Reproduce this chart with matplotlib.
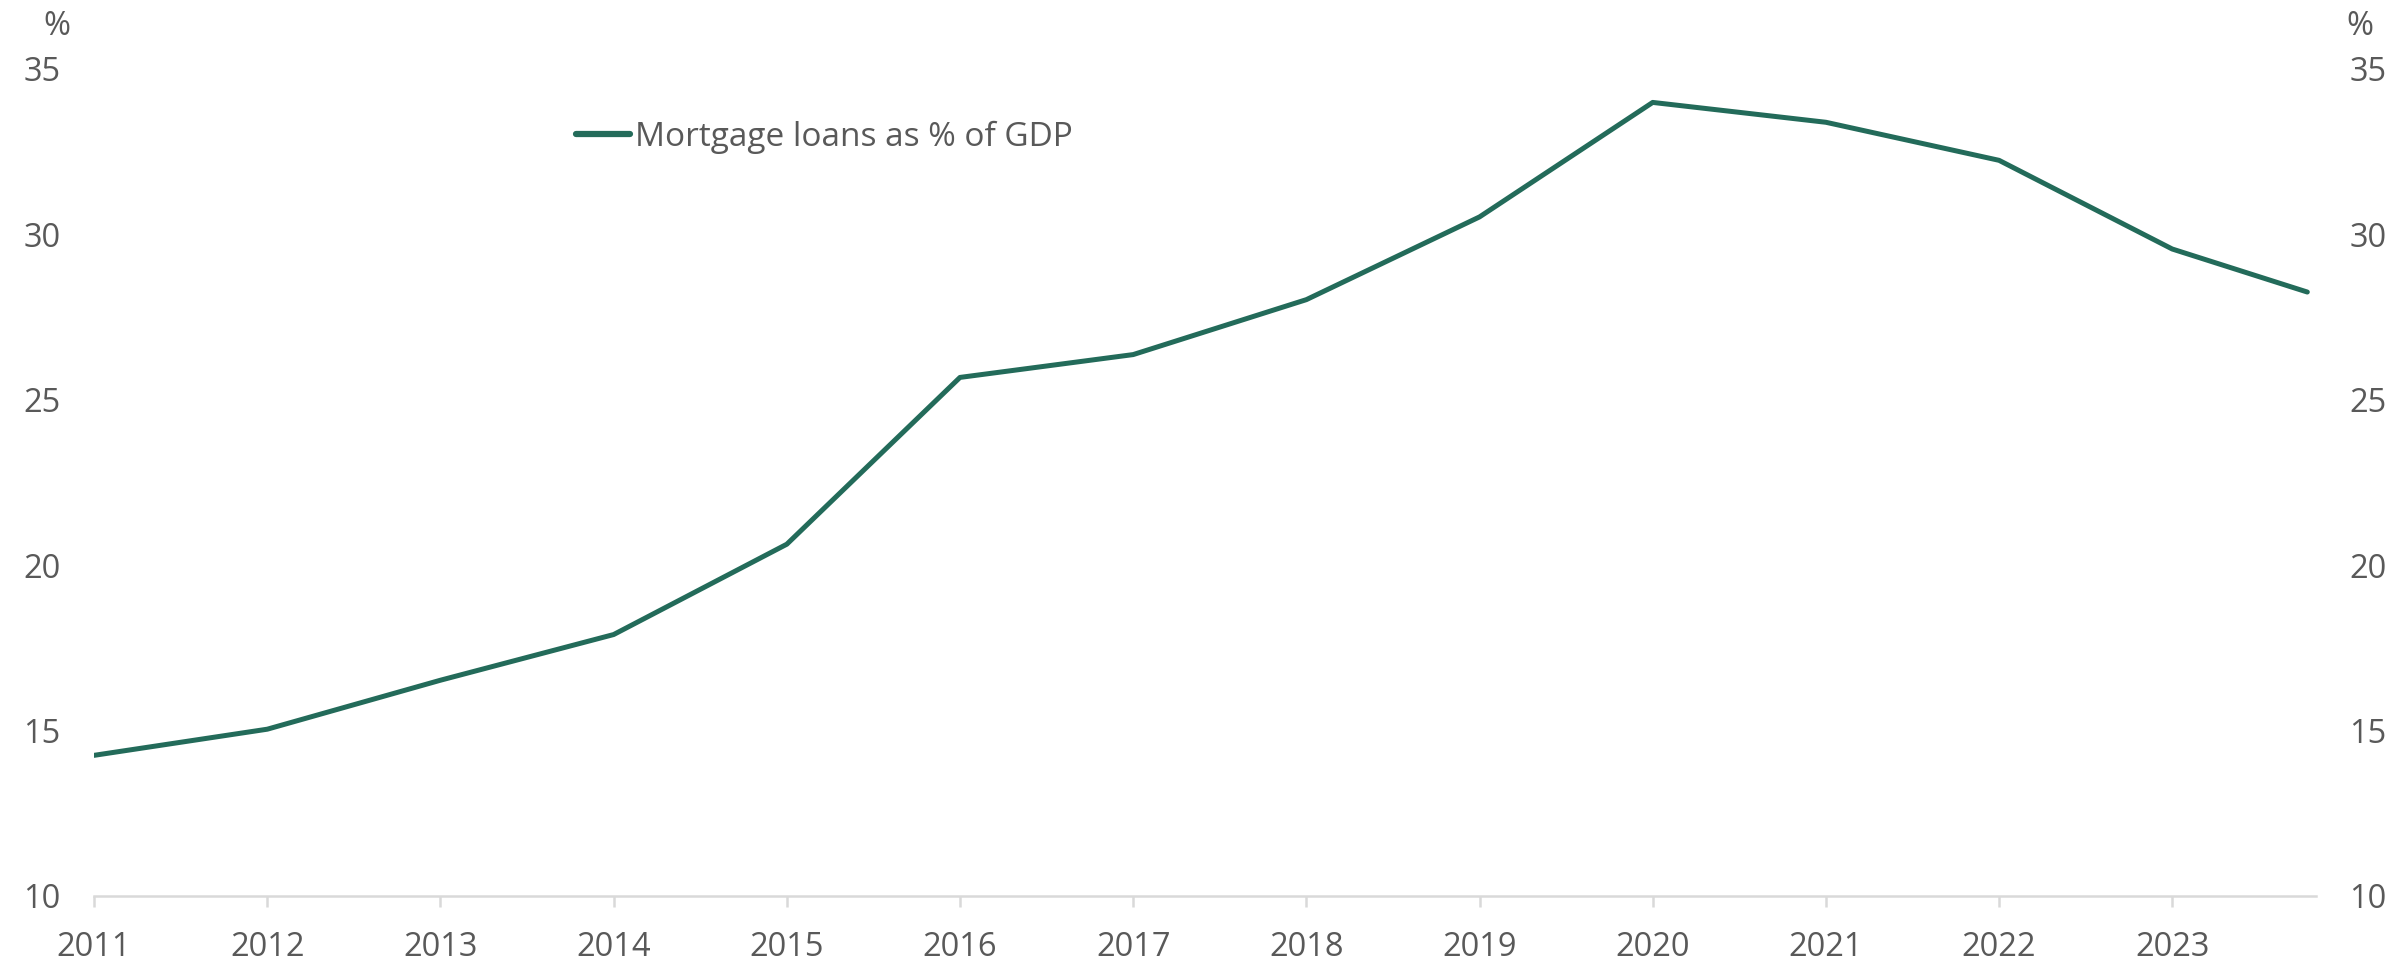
import matplotlib as mpl
import matplotlib.pyplot as plt
import numpy as np

# mortgage loans relative to GDP, annual points with a last reading in 2023
years = [2011, 2012, 2013, 2014, 2015, 2016, 2017, 2018, 2019, 2020, 2021, 2022, 2023, 2023.78]
mortgage_pct_gdp = [14.25, 15.04, 16.52, 17.9, 20.63, 25.67, 26.36, 28.02, 30.52,
                    33.98, 33.38, 32.23, 29.55, 28.25]
year_ticks = list(range(2011, 2024))
pct_ticks = [10, 15, 20, 25, 30, 35]

plt.rcParams['font.family'] = ['Open Sans', 'DejaVu Sans']
grey = '#595959'
green = '#236b5a'

fig = plt.figure(figsize=(23.95, 9.63), dpi=100)
ax = fig.add_axes([0.0393, 0.0696, 0.9277, 0.8591])

ax.plot(years, mortgage_pct_gdp, color=green, lw=3.6, solid_capstyle='round',
        label='Mortgage loans as % of GDP')

ax.set_xlim(2011, 2023.83)
ax.set_ylim(10, 35)
ax.set_xticks(year_ticks)
ax.set_yticks(pct_ticks)

for s in ['top', 'left', 'right']:
    ax.spines[s].set_visible(False)
ax.spines['bottom'].set_color('#d9d9d9')
ax.spines['bottom'].set_linewidth(1.8)

ax.tick_params(axis='x', length=8, width=1.8, color='#d9d9d9', pad=17,
               labelsize=23.5, labelcolor=grey)
ax.tick_params(axis='y', length=0, pad=24, labelsize=23.5, labelcolor=grey,
               labelright=True, right=False)

fig.text(0.0238, 0.973, '%', fontsize=23.5, color=grey, ha='center', va='center')
fig.text(0.9855, 0.973, '%', fontsize=23.5, color=grey, ha='center', va='center')

leg = ax.legend(loc='upper left', bbox_to_anchor=(0.211, 0.953), frameon=False,
                fontsize=24, labelcolor=grey, handlelength=1.6, handletextpad=0.15,
                borderaxespad=0)
for h in leg.get_lines():
    h.set_linewidth(4.5)
    h.set_solid_capstyle('round')

plt.savefig('out.png', dpi=100)
